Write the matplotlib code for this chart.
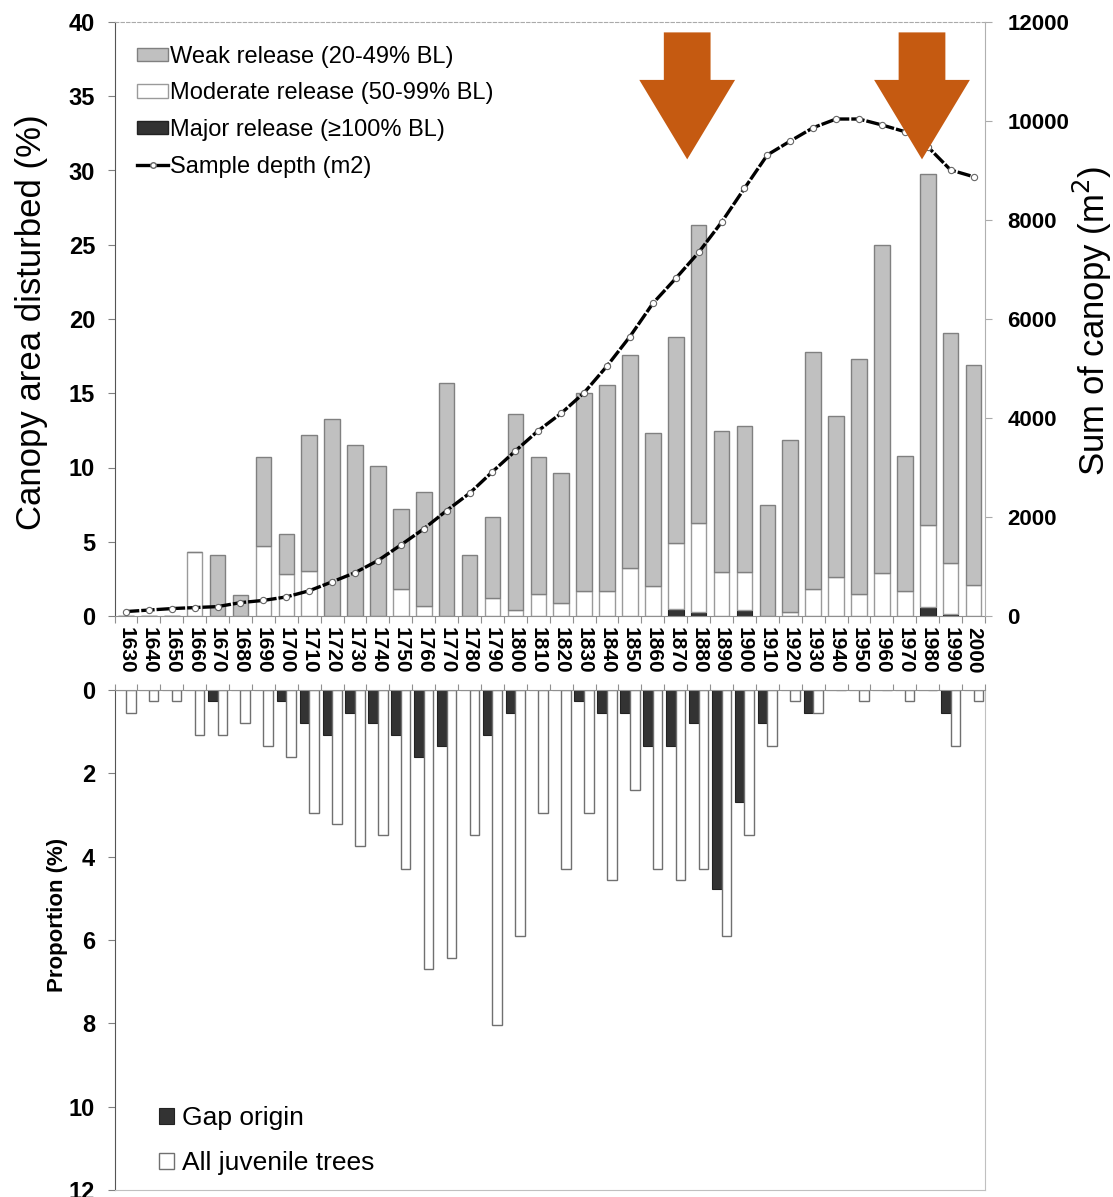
import matplotlib
matplotlib.use('Agg')
import matplotlib.pyplot as plt
from matplotlib.patches import Patch, Polygon
from matplotlib.lines import Line2D
import numpy as np

plt.rcParams['font.family'] = ['Liberation Sans', 'DejaVu Sans']

# Decades of release / establishment
years = list(range(1630, 2001, 10))

# Canopy area disturbed (%), by release class
major = [0, 0, 0, 0, 0, 0, 0, 0, 0, 0, 0, 0, 0, 0, 0, 0, 0, 0, 0,
         0, 0, 0, 0, 0, 0.5, 0.25, 0, 0.4, 0, 0, 0, 0, 0, 0, 0, 0.6, 0.15, 0]
moderate = [0, 0, 0, 4.3, 0, 0, 4.7, 2.8, 3.0, 0, 0, 0, 1.8, 0.65, 0, 0, 1.2, 0.4, 1.45,
            0.85, 1.7, 1.65, 3.2, 2.0, 4.4, 6.0, 2.95, 2.55, 0, 0.3, 1.8, 2.6, 1.45, 2.9, 1.7, 5.5, 3.4, 2.1]
weak = [0, 0, 0, 0, 4.1, 1.4, 6.0, 2.7, 9.2, 13.25, 11.5, 10.1, 5.4, 7.7, 15.7, 4.1, 5.5, 13.2, 9.25,
        8.75, 13.35, 13.9, 14.4, 10.3, 13.9, 20.05, 9.5, 9.85, 7.5, 11.55, 15.95, 10.9, 15.85, 22.05, 9.05, 23.65, 15.5, 14.8]

# Sample depth, sum of canopy (m2)
sample_depth = [90, 120, 150, 170, 190, 270, 315, 385, 510, 690, 875, 1120, 1435, 1760, 2130, 2480, 2915, 3335, 3745,
                4095, 4510, 5050, 5645, 6315, 6820, 7345, 7955, 8640, 9315, 9595, 9865, 10040, 10040, 9920, 9785, 9480, 9010, 8875]

# Establishment proportion (%)
gap_origin = [0, 0, 0, 0, 0.27, 0, 0, 0.27, 0.80, 1.07, 0.54, 0.80, 1.07, 1.61, 1.34, 0, 1.07, 0.54, 0,
              0, 0.27, 0.54, 0.54, 1.34, 1.34, 0.80, 4.77, 2.68, 0.80, 0, 0.54, 0, 0, 0, 0, 0, 0.54, 0]
all_juvenile = [0.54, 0.27, 0.27, 1.07, 1.07, 0.80, 1.34, 1.61, 2.95, 3.22, 3.75, 3.49, 4.29, 6.70, 6.43, 3.49, 8.04, 5.90, 2.95,
                4.29, 2.95, 4.56, 2.41, 4.29, 4.56, 4.29, 5.90, 3.49, 1.34, 0.27, 0.54, 0, 0.27, 0, 0.27, 0, 1.34, 0.27]

W, H = 1113, 1197
fig = plt.figure(figsize=(W / 100, H / 100), dpi=100)

x = np.arange(len(years))
edges = np.arange(-0.5, len(years), 1.0)

# ---- upper panel: release events ----
ax = fig.add_axes([114.5 / W, 1 - 616 / H, 870.5 / W, 594 / H])
major = np.array(major)
moderate = np.array(moderate)
weak = np.array(weak)
bw = 0.68
ax.bar(x, major, bw, color='#333333', edgecolor='#222222', lw=0.8, zorder=2)
ax.bar(x, moderate, bw, bottom=major, color='white', edgecolor='#9a9a9a', lw=1.0, zorder=2)
ax.bar(x, weak, bw, bottom=major + moderate, color='#c0c0c0', edgecolor='#808080', lw=1.0, zorder=2)

ax.set_xlim(-0.5, len(years) - 0.5)
ax.set_ylim(0, 40)
ax.set_yticks(range(0, 41, 5))
ax.set_xticks(x)
ax.set_xticklabels([str(y) for y in years], rotation=-90, fontweight='bold', fontsize=15)
ax.set_xticks(edges, minor=True)
ax.tick_params(axis='x', which='major', length=0, pad=8)
ax.tick_params(axis='x', which='minor', length=5, color='#909090', width=0.8)
ax.tick_params(axis='y', length=5, color='#808080', width=0.8, pad=9, labelsize=17)
for lab in ax.get_yticklabels():
    lab.set_fontweight('bold')

ax.spines['left'].set_color('#555555')
ax.spines['bottom'].set_color('#909090')
ax.spines['top'].set_color('#aaaaaa')
ax.spines['top'].set_linestyle((0, (3, 2)))
ax.spines['top'].set_linewidth(0.8)
ax.spines['right'].set_visible(False)

axr = ax.twinx()
axr.set_ylim(0, 12000)
axr.set_yticks(range(0, 12001, 2000))
axr.plot(x, sample_depth, color='black', lw=2.4, ls=(0, (4, 0.6)), marker='o', ms=4.5,
         mfc='white', mec='#666666', mew=0.8, zorder=3)
axr.tick_params(axis='y', length=5, color='#aaaaaa', width=0.8, pad=11, labelsize=16)
for lab in axr.get_yticklabels():
    lab.set_fontweight('bold')
for s in ['left', 'top', 'bottom']:
    axr.spines[s].set_visible(False)
axr.spines['right'].set_color('#b0b0b0')
axr.spines['right'].set_linewidth(0.8)

# orange block arrows marking the two disturbance peaks
arrow_at = [24.5, 34.75]
for xc in arrow_at:
    pts = [(xc - 1.02, 39.3), (xc + 1.02, 39.3), (xc + 1.02, 36.1), (xc + 2.09, 36.1),
           (xc, 30.75), (xc - 2.09, 36.1), (xc - 1.02, 36.1)]
    axr.add_patch(Polygon(pts, closed=True, transform=ax.transData, facecolor='#c55a11',
                          edgecolor='none', zorder=5, clip_on=False))

handles = [Patch(facecolor='#c0c0c0', edgecolor='#808080', label='Weak release (20-49% BL)'),
           Patch(facecolor='white', edgecolor='#9a9a9a', label='Moderate release (50-99% BL)'),
           Patch(facecolor='#333333', edgecolor='#222222', label='Major release (\u2265100% BL)'),
           Line2D([], [], color='black', lw=2.4, marker='o', ms=4, mfc='white', mec='#666666',
                  label='Sample depth (m2)')]
axr.legend(handles=handles, loc='upper left', bbox_to_anchor=(0.01, 0.984), frameon=False,
           fontsize=17, handlelength=1.3, handleheight=0.5, handletextpad=0.1, labelspacing=0.62,
           borderaxespad=0.2)

fig.text(32 / W, 1 - 322 / H, 'Canopy area disturbed (%)', rotation=90, ha='center', va='center',
         fontsize=25)
fig.text(1092 / W, 1 - 321 / H, 'Sum of canopy (m$^2$)', rotation=90, ha='center', va='center',
         fontsize=25)

# ---- lower panel: establishment ----
ax2 = fig.add_axes([114.5 / W, 1 - 1190 / H, 870.5 / W, 500 / H])
ax2.bar(x - 0.21, gap_origin, 0.42, color='#333333', edgecolor='#222222', lw=0.8, label='Gap origin')
ax2.bar(x + 0.21, all_juvenile, 0.42, color='white', edgecolor='#707070', lw=1.0,
        label='All juvenile trees')
ax2.set_xlim(-0.5, len(years) - 0.5)
ax2.set_ylim(12, 0)
ax2.set_yticks(range(0, 13, 2))
ax2.xaxis.tick_top()
ax2.set_xticks(edges)
ax2.set_xticklabels([])
ax2.tick_params(axis='x', length=4, color='#909090', width=0.8)
ax2.tick_params(axis='y', length=5, color='#808080', width=0.8, pad=9, labelsize=17)
for lab in ax2.get_yticklabels():
    lab.set_fontweight('bold')
ax2.spines['left'].set_color('#555555')
ax2.spines['top'].set_color('#909090')
ax2.spines['right'].set_color('#c0c0c0')
ax2.spines['right'].set_linewidth(0.8)
ax2.spines['bottom'].set_color('#c0c0c0')

ax2.legend(loc='lower left', bbox_to_anchor=(0.035, 0.0), frameon=False, fontsize=19,
           handlelength=0.55, handleheight=0.55, handletextpad=0.3, labelspacing=0.8,
           borderaxespad=0.15)

fig.text(57 / W, 1 - 915 / H, 'Proportion (%)', rotation=90, ha='center', va='center',
         fontsize=16, fontweight='bold')

fig.savefig('out.png', dpi=100)
